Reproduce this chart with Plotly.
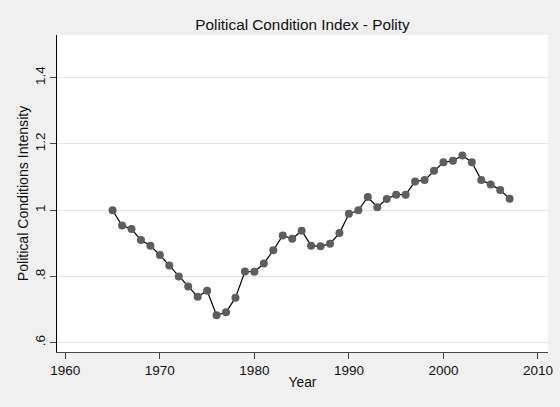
import plotly.graph_objects as go

years = list(range(1965, 2008))
index_values = [
    1.000, 0.954, 0.943, 0.910, 0.893, 0.865, 0.833, 0.800, 0.770, 0.739,
    0.757, 0.683, 0.692, 0.736, 0.815, 0.814, 0.839, 0.879, 0.924, 0.914,
    0.938, 0.893, 0.891, 0.899, 0.931, 0.989, 1.000, 1.040, 1.009, 1.034,
    1.047, 1.047, 1.087, 1.091, 1.119, 1.145, 1.149, 1.165, 1.145, 1.091,
    1.078, 1.061, 1.035,
]
x_ticks = [1960, 1970, 1980, 1990, 2000, 2010]
y_ticks = [0.6, 0.8, 1.0, 1.2, 1.4]
y_tick_labels = [".6", ".8", "1", "1.2", "1.4"]

FONT = "Liberation Sans, Arial, sans-serif"

fig = go.Figure()
fig.add_trace(go.Scatter(
    x=years, y=index_values, mode="lines+markers",
    line=dict(color="#000000", width=1.2),
    marker=dict(color="#5e5e5e", size=8, line=dict(width=0)),
    showlegend=False, cliponaxis=False,
))

fig.update_layout(
    width=560, height=407,
    margin=dict(l=56.7, r=12.3, t=35, b=55, autoexpand=False),
    paper_bgcolor="#f0f0f0",
    plot_bgcolor="#ffffff",
    font=dict(family=FONT, size=13.5, color="#111111"),
    title=dict(
        text="Political Condition Index - Polity",
        x=0.5, xref="paper", xanchor="center",
        y=1 - 25 / 407, yref="container", yanchor="middle",
        font=dict(family=FONT, size=15.3, color="#111111"),
    ),
    xaxis=dict(
        range=[1959.12, 2011.06],
        tickvals=x_ticks,
        ticks="outside", ticklen=6, tickcolor="#444444", tickwidth=1,
        showline=True, linecolor="#444444", linewidth=1.2,
        showgrid=False, zeroline=False, automargin=False,
        title=dict(text="Year", standoff=0, font=dict(size=13.8)),
    ),
    yaxis=dict(
        range=[0.572, 1.529],
        tickvals=y_ticks, ticktext=y_tick_labels,
        tickangle=-90,
        ticks="outside", ticklen=6, tickcolor="#444444", tickwidth=1,
        showline=True, linecolor="#000000", linewidth=1.2,
        showgrid=True, gridcolor="#e6e6e6", gridwidth=1,
        zeroline=False, automargin=False,
        title=dict(text="Political Conditions Intensity", standoff=0, font=dict(size=14.1)),
    ),
)

fig.write_html(
    "out.html",
    config={"displayModeBar": False},
    post_script="document.body.style.margin='0';document.body.style.background='#f0f0f0';",
)
